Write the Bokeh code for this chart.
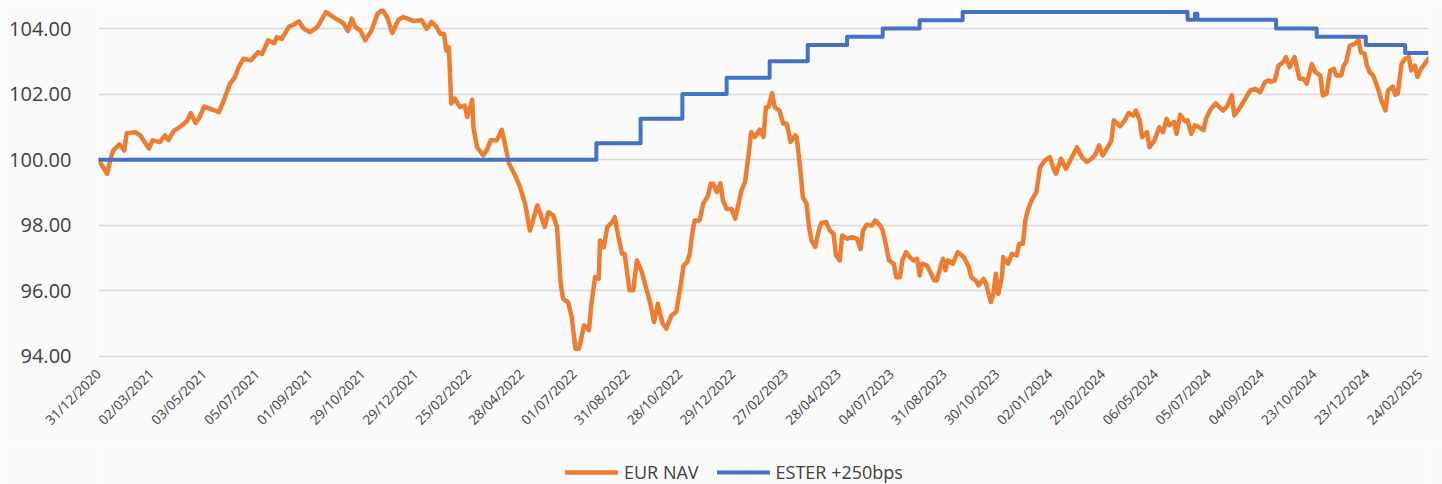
from bokeh.plotting import figure
from bokeh.models import Range1d, FixedTicker, Legend, PrintfTickFormatter
from bokeh.layouts import column
from bokeh.embed import file_html
from bokeh.resources import INLINE
import math

# x axis = trading-day index since 31/12/2020 (category axis, label every 43 trading days)
tick_labels = ["31/12/2020", "02/03/2021", "03/05/2021", "05/07/2021", "01/09/2021",
               "29/10/2021", "29/12/2021", "25/02/2022", "28/04/2022", "01/07/2022",
               "31/08/2022", "28/10/2022", "29/12/2022", "27/02/2023", "28/04/2023",
               "04/07/2023", "31/08/2023", "30/10/2023", "02/01/2024", "29/02/2024",
               "06/05/2024", "05/07/2024", "04/09/2024", "23/10/2024", "23/12/2024",
               "24/02/2025"]
label_step = 43
last_day = 1082

nav_day = [0, 7, 10, 12, 17, 21, 23, 30, 34, 41, 44, 50, 54, 57, 61, 67, 72, 75, 79, 82,
           86, 91, 98, 103, 107, 111, 114, 118, 124, 130, 133, 138, 143, 145, 149, 155, 159, 163, 167, 172,
           178, 185, 189, 193, 199, 203, 206, 209, 213, 217, 222, 227, 231, 235, 239, 244, 248, 256, 263, 267,
           271, 275, 278, 281, 283, 285, 287, 290, 294, 298, 300, 304, 305, 308, 313, 316, 319, 324, 328, 330,
           334, 339, 343, 347, 351, 355, 357, 359, 363, 366, 370, 373, 376, 378, 382, 385, 388, 391, 395, 399,
           401, 404, 407, 408, 411, 414, 418, 420, 423, 426, 428, 432, 435, 438, 442, 446, 449, 452, 455, 459,
           462, 466, 470, 473, 476, 479, 481, 483, 485, 489, 492, 496, 498, 500, 503, 506, 508, 511, 515, 518,
           521, 523, 526, 529, 531, 534, 538, 541, 543, 545, 548, 550, 554, 557, 560, 563, 567, 568, 571, 573,
           576, 578, 580, 583, 586, 588, 592, 595, 598, 600, 603, 605, 609, 613, 617, 620, 622, 625, 629, 632,
           636, 638, 641, 643, 647, 649, 652, 654, 657, 660, 663, 666, 668, 670, 674, 676, 680, 682, 685, 687,
           689, 691, 695, 699, 704, 708, 710, 714, 716, 720, 722, 726, 728, 730, 732, 735, 736, 740, 743, 747,
           749, 752, 754, 756, 759, 763, 766, 770, 774, 777, 779, 783, 787, 792, 796, 800, 804, 808, 811, 814,
           817, 821, 824, 826, 829, 831, 835, 838, 842, 844, 847, 849, 853, 855, 859, 863, 866, 869, 871, 875,
           877, 880, 884, 886, 889, 892, 895, 899, 901, 905, 909, 912, 915, 918, 922, 924, 928, 933, 937, 941,
           945, 949, 952, 954, 957, 960, 964, 966, 969, 973, 977, 980, 983, 987, 990, 994, 996, 999, 1002, 1005,
           1007, 1011, 1013, 1015, 1018, 1022, 1025, 1027, 1030, 1032, 1034, 1037, 1041, 1044, 1047, 1049, 1053, 1055, 1057, 1060,
           1063, 1066, 1068, 1071, 1073, 1076, 1082]

nav_val = [100.00, 99.57, 100.05, 100.28, 100.47, 100.28, 100.81, 100.84, 100.74, 100.34,
           100.59, 100.54, 100.74, 100.60, 100.87, 101.02, 101.18, 101.42, 101.12, 101.28,
           101.62, 101.55, 101.45, 101.91, 102.32, 102.52, 102.82, 103.08, 103.03, 103.28,
           103.22, 103.64, 103.55, 103.74, 103.68, 104.06, 104.12, 104.22, 103.99, 103.89,
           104.04, 104.50, 104.40, 104.30, 104.17, 103.92, 104.30, 104.04, 103.94, 103.64,
           103.93, 104.45, 104.57, 104.33, 103.86, 104.27, 104.35, 104.23, 104.25, 103.99,
           104.20, 104.05, 103.84, 103.84, 103.33, 103.43, 101.71, 101.86, 101.60, 101.65,
           101.30, 101.83, 100.99, 100.38, 100.13, 100.30, 100.59, 100.59, 100.91, 100.59,
           99.88, 99.52, 99.16, 98.66, 97.84, 98.35, 98.61, 98.40, 97.95, 98.40,
           98.30, 97.95, 96.22, 95.76, 95.66, 95.20, 94.24, 94.24, 94.95, 94.80,
           95.61, 96.42, 96.37, 97.54, 97.33, 97.95, 98.10, 98.25, 97.64, 97.13,
           97.13, 96.02, 96.02, 96.93, 96.58, 96.02, 95.61, 95.05, 95.61, 95.00,
           94.85, 95.25, 95.36, 96.02, 96.78, 96.88, 97.13, 97.74, 98.15, 98.15,
           98.66, 98.91, 99.27, 99.27, 99.01, 99.28, 98.76, 98.50, 98.50, 98.20,
           98.71, 99.06, 99.32, 100.18, 100.84, 100.69, 100.92, 100.69, 101.60, 101.60,
           102.03, 101.60, 101.50, 101.10, 101.10, 100.54, 100.74, 100.69, 99.67, 98.86,
           98.66, 97.95, 97.54, 97.34, 97.84, 98.07, 98.10, 97.84, 97.74, 97.08,
           96.93, 97.69, 97.59, 97.64, 97.59, 97.28, 97.84, 98.02, 97.99, 98.15,
           97.99, 97.84, 97.33, 96.93, 96.83, 96.42, 96.42, 96.93, 97.18, 97.03,
           96.93, 96.98, 96.47, 96.83, 96.78, 96.63, 96.32, 96.32, 96.73, 96.98,
           96.63, 96.93, 96.83, 97.18, 97.03, 96.73, 96.42, 96.30, 96.17, 96.37,
           96.22, 95.66, 95.91, 96.52, 95.91, 96.42, 97.03, 96.83, 97.13, 97.08,
           97.44, 97.44, 98.15, 98.45, 98.76, 99.01, 99.77, 99.98, 100.08, 99.72,
           99.57, 100.03, 99.72, 100.08, 100.38, 100.08, 99.93, 100.03, 100.16, 100.44,
           100.13, 100.38, 100.59, 101.20, 101.10, 101.02, 101.20, 101.42, 101.35, 101.50,
           101.20, 100.69, 100.84, 100.38, 100.59, 100.99, 100.84, 101.25, 101.05, 101.15,
           100.79, 101.37, 101.17, 101.20, 100.79, 101.05, 101.00, 100.90, 101.25, 101.55,
           101.72, 101.60, 101.50, 101.62, 101.96, 101.35, 101.55, 101.86, 102.11, 102.16,
           102.06, 102.37, 102.42, 102.37, 102.42, 102.87, 102.98, 103.13, 102.82, 103.13,
           102.47, 102.47, 102.32, 102.92, 102.67, 102.57, 101.96, 102.01, 102.72, 102.77,
           102.57, 102.57, 102.87, 102.98, 103.48, 103.53, 103.64, 103.28, 103.23, 102.87,
           102.67, 102.57, 102.16, 101.76, 101.50, 102.11, 102.23, 101.98, 102.01, 102.92,
           103.08, 103.13, 102.72, 102.87, 102.52, 102.77, 103.08]

ester_day = [0, 405, 441, 475, 511, 546, 577, 609, 638, 668, 703, 886, 892, 894, 958, 991, 1031, 1063, 1082]
ester_val = [100.00, 100.50, 101.25, 102.00, 102.50, 103.00, 103.50, 103.75, 104.00, 104.25,
             104.50, 104.27, 104.45, 104.27, 104.00, 103.75, 103.50, 103.25, 103.25]

series_names = ["EUR NAV", "ESTER +250bps"]
y_ticks = [94, 96, 98, 100, 102, 104]

ORANGE = "#ED7D31"
BLUE = "#4472C4"
BG = "#FAFAFA"
TXT = "#404040"

W = 1442
p = figure(width=W, height=440, output_backend="svg", toolbar_location=None,
           x_range=Range1d(0, last_day), y_range=Range1d(93.939, 104.61),
           min_border_left=98, min_border_right=14, min_border_top=8, min_border_bottom=82,
           background_fill_color=BG, border_fill_color=BG, outline_line_color=None)

p.line(nav_day, nav_val, line_color=ORANGE, line_width=4.5,
       line_join="round", line_cap="round")
p.step(ester_day, ester_val, mode="after", line_color=BLUE, line_width=4,
       line_join="round")

# y axis
p.yaxis.ticker = FixedTicker(ticks=y_ticks)
p.yaxis.formatter = PrintfTickFormatter(format="%.2f")
p.yaxis.axis_line_color = None
p.yaxis.major_tick_line_color = None
p.yaxis.minor_tick_line_color = None
p.yaxis.major_label_standoff = 21
p.yaxis.major_label_text_font = "Open Sans"
p.yaxis.major_label_text_font_size = "20px"
p.yaxis.major_label_text_color = TXT

# x axis
xt = [i * label_step for i in range(len(tick_labels))]
p.xaxis.ticker = FixedTicker(ticks=xt)
p.xaxis.major_label_overrides = {t: lab for t, lab in zip(xt, tick_labels)}
p.xaxis.major_label_orientation = math.pi / 4
p.xaxis.axis_line_color = None
p.xaxis.major_tick_line_color = None
p.xaxis.minor_tick_line_color = None
p.xaxis.major_label_standoff = 7
p.xaxis.major_label_text_font = "Open Sans"
p.xaxis.major_label_text_font_size = "13.5px"
p.xaxis.major_label_text_color = TXT

p.xgrid.grid_line_color = None
p.ygrid.ticker = FixedTicker(ticks=y_ticks)
p.ygrid.grid_line_color = "#D9D9D9"
p.ygrid.grid_line_width = 1.5

# legend strip below the chart (its frame is aligned with the chart's frame)
lg = figure(width=W, height=44, output_backend="svg", toolbar_location=None,
            x_range=Range1d(0, 1), y_range=Range1d(0, 1),
            x_axis_type=None, y_axis_type=None,
            min_border_left=98, min_border_right=14, min_border_top=0, min_border_bottom=0,
            background_fill_color=BG, border_fill_color=BG, outline_line_color=None)
lg.xgrid.visible = False
lg.ygrid.visible = False
nan = float("nan")
k_nav = lg.line([nan], [nan], line_color=ORANGE, line_width=4.5, line_cap="round")
k_est = lg.line([nan], [nan], line_color=BLUE, line_width=4, line_cap="round")

legend = Legend(items=[(series_names[0], [k_nav]), (series_names[1], [k_est])],
                orientation="horizontal", location=(467, 0),
                glyph_width=53, glyph_height=20, label_standoff=6, spacing=18,
                padding=0, margin=0, background_fill_alpha=0, border_line_color=None,
                label_text_font="Open Sans", label_text_font_size="18px",
                label_text_color=TXT)
lg.add_layout(legend)

layout = column(p, lg, spacing=0)
open("out.html", "w").write(file_html(layout, INLINE))
